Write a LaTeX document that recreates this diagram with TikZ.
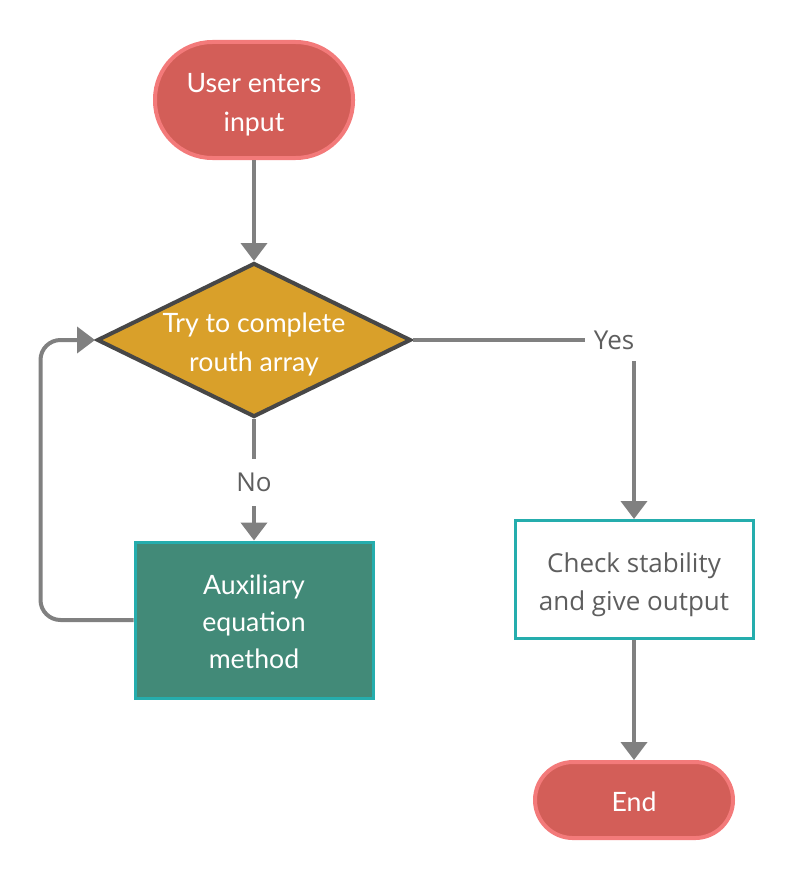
\documentclass[tikz,border=0pt]{standalone}
\usepackage{fontspec}
\setmainfont{Lato}
\newfontfamily\labelfont{Open Sans}
\usetikzlibrary{shapes.geometric,arrows.meta,positioning}
\definecolor{termfill}{HTML}{D35E58}
\definecolor{termline}{HTML}{F37A7A}
\definecolor{decfill}{HTML}{D9A02A}
\definecolor{decline}{HTML}{474747}
\definecolor{auxfill}{HTML}{428A78}
\definecolor{boxline}{HTML}{25ADAD}
\definecolor{linegray}{HTML}{808080}
\definecolor{textgray}{HTML}{5E5E5E}
% strut so that the text sits on its line box like the original
\newcommand{\ns}{\rule[-5pt]{0pt}{27.8pt}}
\tikzstyle{term} = [rectangle, draw=termline, fill=termfill, line width=3pt,
    text=white, align=center, font=\fontsize{20}{27.75}\selectfont,
    minimum width=148.5pt, minimum height=87pt, rounded corners=43pt]
\tikzstyle{decision} = [diamond, draw=decline, fill=decfill, line width=3pt,
    text=white, align=center, font=\fontsize{20}{27.75}\selectfont,
    inner sep=-4pt, aspect=2.05, minimum width=235.5pt, minimum height=115.5pt]
\tikzstyle{block} = [rectangle, draw=boxline, fill=auxfill, line width=2.25pt,
    text=white, align=center, font=\fontsize{20}{27.75}\selectfont,
    minimum width=178.5pt, minimum height=117pt]
\tikzstyle{block2} = [rectangle, draw=boxline, fill=white, line width=2.25pt,
    text=textgray, align=center, font=\labelfont\fontsize{19.5}{28.5}\selectfont,
    minimum width=178.5pt, minimum height=88.5pt]
\tikzstyle{line} = [draw=linegray, line width=3pt, -{Triangle[width=19.5pt,length=13.5pt]}]
\tikzstyle{lbl} = [fill=white, text=textgray, inner sep=0pt,
    font=\labelfont\fontsize{19.5}{24}\selectfont]

\begin{document}
\begin{tikzpicture}[x=0.75pt, y=-0.75pt]
    \useasboundingbox (0,0) rectangle (795,881);
    % Place nodes
    \node [term] (start) at (254,100) {\ns User enters\\input\ns};
    \node [decision, below of=start, node distance=180pt] (try) {\ns Try to complete\\routh array\ns};
    \node [block, below of=try, node distance=210pt] (aux) {\ns Auxiliary\\equation\\method\ns};
    \node [block2] (check) at (634,579.5) {\ns Check stability\\and give output\ns};
    \node [term, below of=check, node distance=165.4pt, minimum height=57pt,
        rounded corners=28.5pt] (stop) {\ns End\ns};

    % Draw edges
    \path [line] (start) -- (try);
    \path [line] (try.east) -| node [lbl, pos=0.455, minimum width=43.5pt,
        minimum height=31.5pt] {Yes} (check.north);
    \path [line] (try.south) -- node [lbl, pos=0.52, minimum width=40pt,
        minimum height=35pt] {No} (aux.north);
    \path [line, rounded corners=15pt] (aux.west) -- ++(-93,0) |- (try.west);
    \path [line] (check) -- (stop);
\end{tikzpicture}
\end{document}
